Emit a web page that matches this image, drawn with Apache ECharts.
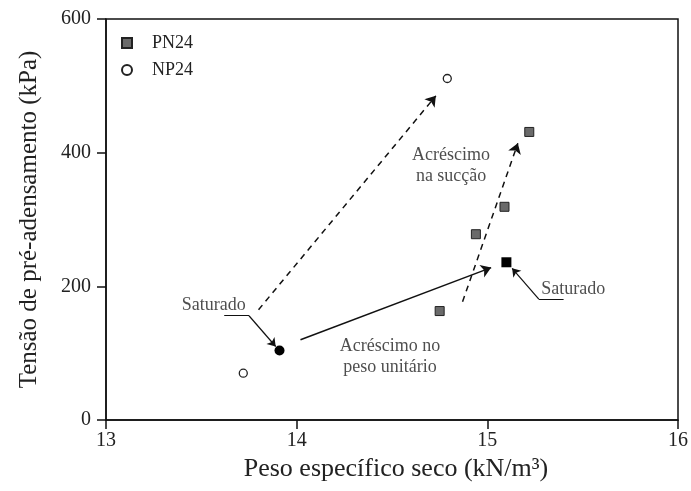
<!DOCTYPE html>
<html>
<head>
<meta charset="utf-8">
<script src="https://cdn.jsdelivr.net/npm/echarts@6/dist/echarts.min.js"></script>
<style>
  html, body { margin: 0; padding: 0; background: #fff; }
  #chart { width: 691px; height: 491px; }
</style>
</head>
<body>
<div id="chart"></div>
<script>
// Axis ticks
const xTicks = [13, 14, 15, 16];
const yTicks = [0, 200, 400, 600];

// PN24 specimens (dry unit weight kN/m3, pre-consolidation stress kPa)
const pn24X = [14.75, 14.94, 15.09, 15.22];
const pn24Y = [163, 278, 319, 431];
const pn24SatX = [15.10];
const pn24SatY = [236];

// NP24 specimens
const np24X = [13.72, 14.79];
const np24Y = [70, 511];
const np24SatX = [13.91];
const np24SatY = [104];

// Trend arrows: [x1, y1, x2, y2]
const dashedArrows = [
  [13.80, 165, 14.73, 485],
  [14.87, 177, 15.16, 414]
];
const solidArrows = [
  [14.02, 120, 15.02, 228]
];
// "Saturado" callouts: underline [x1, x2, y] and pointer tip [x, y]
const leaderUnderlines = [
  [13.62, 13.75, 156],
  [15.27, 15.40, 181]
];
const leaderFrom = [[13.75, 156], [15.27, 181]];
const leaderTips = [[13.89, 110], [15.13, 227]];

// Annotation texts and anchor points
const noteTexts = ['Acréscimo\nna sucção', 'Acréscimo no\npeso unitário', 'Saturado', 'Saturado'];
const noteX = [14.81, 14.49, 13.565, 15.45];
const noteY = [380, 94, 171, 195];

const serif = '"Liberation Serif", "Times New Roman", serif';
const ink = '#111';

const zip = (xs, ys) => xs.map((x, i) => [x, ys[i]]);

const arrowSeries = (arr, dashed) => ({
  type: 'lines',
  coordinateSystem: 'cartesian2d',
  silent: true,
  symbol: ['none', 'arrow'],
  symbolSize: [7, 10],
  lineStyle: { color: ink, width: 1.5, type: dashed ? [6, 5] : 'solid', opacity: 1 },
  data: arr.map(a => ({ coords: [[a[0], a[1]], [a[2], a[3]]] })),
  z: 3
});

const option = {
  animation: false,
  backgroundColor: '#fff',
  grid: {
    left: 106, right: 13, top: 19, bottom: 71,
    show: true, borderColor: ink, borderWidth: 1.5, backgroundColor: 'transparent'
  },
  legend: {
    orient: 'vertical',
    left: 116, top: 29,
    itemWidth: 10, itemHeight: 10, itemGap: 9,
    textStyle: { fontFamily: serif, fontSize: 18, color: '#222', padding: [0, 0, 0, 15] },
    data: ['PN24', 'NP24']
  },
  xAxis: {
    type: 'value', min: 13, max: 16, interval: 1,
    name: 'Peso específico seco (kN/m³)',
    nameLocation: 'middle', nameGap: 31,
    nameTextStyle: { fontFamily: serif, fontSize: 26, color: '#222', padding: [0, 0, 0, 8] },
    axisLine: { show: true, lineStyle: { color: ink, width: 1.5 } },
    axisTick: { show: true, inside: false, length: 9, lineStyle: { color: ink, width: 1.5 } },
    axisLabel: { fontFamily: serif, fontSize: 20, color: '#222', margin: 11,
      formatter: v => xTicks.includes(v) ? String(v) : '' },
    splitLine: { show: false }
  },
  yAxis: {
    type: 'value', min: 0, max: 600, interval: 200,
    name: 'Tensão de pré-adensamento (kPa)',
    nameLocation: 'middle', nameGap: 64,
    nameTextStyle: { fontFamily: serif, fontSize: 25, color: '#222' },
    axisLine: { show: true, lineStyle: { color: ink, width: 1.5 } },
    axisTick: { show: true, inside: false, length: 9, lineStyle: { color: ink, width: 1.5 } },
    axisLabel: { fontFamily: serif, fontSize: 20, color: '#222', margin: 15,
      formatter: v => yTicks.includes(v) ? String(v) : '' },
    splitLine: { show: false }
  },
  series: [
    {
      name: 'PN24', type: 'scatter', symbol: 'rect', symbolSize: 9,
      itemStyle: { color: '#6a6a6a', borderColor: '#222', borderWidth: 1, opacity: 1 },
      data: zip(pn24X, pn24Y), z: 5
    },
    {
      name: 'NP24', type: 'scatter', symbol: 'circle', symbolSize: 8,
      itemStyle: { color: '#fff', borderColor: '#222', borderWidth: 1.3, opacity: 1 },
      data: zip(np24X, np24Y), z: 5
    },
    {
      name: 'PN24 saturado', type: 'scatter', symbol: 'rect', symbolSize: 10,
      itemStyle: { color: '#000', opacity: 1 },
      data: zip(pn24SatX, pn24SatY), z: 5
    },
    {
      name: 'NP24 saturado', type: 'scatter', symbol: 'circle', symbolSize: 10,
      itemStyle: { color: '#000', opacity: 1 },
      data: zip(np24SatX, np24SatY), z: 5
    },
    arrowSeries(dashedArrows, true),
    arrowSeries(solidArrows, false),
    {
      type: 'lines', coordinateSystem: 'cartesian2d', silent: true,
      symbol: ['none', 'none'],
      lineStyle: { color: ink, width: 1.2, opacity: 1 },
      data: leaderUnderlines.map(u => ({ coords: [[u[0], u[2]], [u[1], u[2]]] })),
      z: 3
    },
    {
      type: 'lines', coordinateSystem: 'cartesian2d', silent: true,
      symbol: ['none', 'arrow'], symbolSize: [6, 8],
      lineStyle: { color: ink, width: 1.2, opacity: 1 },
      data: leaderFrom.map((p, i) => ({ coords: [p, leaderTips[i]] })),
      z: 3
    },
    {
      type: 'scatter', silent: true, symbolSize: 0.1,
      itemStyle: { color: 'transparent' },
      label: {
        show: true, position: 'inside', align: 'center', verticalAlign: 'middle',
        fontFamily: serif, fontSize: 18, lineHeight: 21, color: '#222',
        formatter: p => noteTexts[p.dataIndex]
      },
      data: zip(noteX, noteY), z: 4
    }
  ]
};

const chart = echarts.init(document.getElementById('chart'), null, { renderer: 'canvas' });
chart.setOption(option);
</script>
</body>
</html>
